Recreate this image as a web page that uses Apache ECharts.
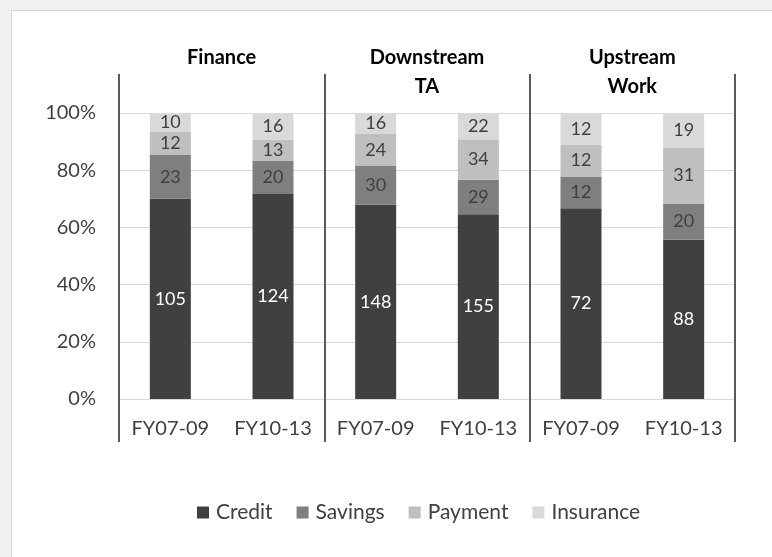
<!DOCTYPE html>
<html>
<head>
<meta charset="utf-8">
<script src="https://cdn.jsdelivr.net/npm/echarts@6/dist/echarts.min.js"></script>
<style>
    html, body { margin: 0; padding: 0; background: #f0f0f0; }
    #chart_box {
        position: absolute; left: 11px; top: 10px;
        width: 761px; height: 547px;
        border-left: 1px solid #d6d6d6; border-top: 1px solid #d6d6d6;
        background: #ffffff;
    }
</style>
</head>
<body>
<div id="chart_box"></div>
<script>
//== Source data
var groups = ['Finance', 'Downstream\nTA', 'Upstream\nWork'];
var periods = ['FY07-09', 'FY10-13', 'FY07-09', 'FY10-13', 'FY07-09', 'FY10-13'];
var yTicks = [0, 20, 40, 60, 80, 100];

var credit = [105, 124, 148, 155, 72, 88];
var savings = [23, 20, 30, 29, 12, 20];
var payment = [12, 13, 24, 34, 12, 31];
var insurance = [10, 16, 16, 22, 12, 19];

var seriesNames = ['Credit', 'Savings', 'Payment', 'Insurance'];
var seriesColors = ['#404040', '#7f7f7f', '#bfbfbf', '#d9d9d9'];
var labelColors = ['#ffffff', '#404040', '#404040', '#404040'];

var FONT = 'Lato';

//== build 100% stacked series
var rawLists = [credit, savings, payment, insurance];
var totals = periods.map(function (p, i) {
    return credit[i] + savings[i] + payment[i] + insurance[i];
});

var series = rawLists.map(function (list, s) {
    return {
        name: seriesNames[s],
        type: 'bar',
        stack: 'share',
        barWidth: 41,
        xAxisIndex: 0,
        yAxisIndex: 0,
        itemStyle: { color: seriesColors[s] },
        label: {
            show: true,
            position: 'inside',
            color: labelColors[s],
            fontFamily: FONT,
            fontSize: 18,
            formatter: function (p) { return String(list[p.dataIndex]); }
        },
        data: list.map(function (v, i) { return v / totals[i] * 100; })
    };
});

var chart = echarts.init(document.getElementById('chart_box'));

chart.setOption({
    animation: false,
    backgroundColor: '#ffffff',
    textStyle: { fontFamily: FONT },
    legend: {
        data: seriesNames,
        left: 180,
        top: 486,
        icon: 'rect',
        itemWidth: 12,
        itemHeight: 12,
        itemGap: 24,
        textStyle: { fontFamily: FONT, fontSize: 21, color: '#404040', padding: [0, 0, 0, 2] }
    },
    grid: [
        { left: 107, right: 38, top: 102, bottom: 159 },
        { left: 107, right: 38, top: 63, bottom: 116 }
    ],
    xAxis: [{
        type: 'category',
        gridIndex: 0,
        data: periods,
        axisLine: { show: false },
        axisTick: { show: false },
        axisLabel: {
            interval: 0,
            margin: 20,
            fontFamily: FONT,
            fontSize: 20,
            color: '#404040'
        }
    }, {
        // group headers; split lines act as separators
        type: 'category',
        gridIndex: 1,
        position: 'top',
        data: groups,
        axisLine: { show: false },
        axisTick: { show: false },
        splitLine: {
            show: true,
            interval: 0,
            lineStyle: { color: '#595959', width: 2 }
        },
        axisLabel: {
            interval: 0,
            margin: 31,
            verticalAlign: 'top',
            lineHeight: 29,
            fontFamily: FONT,
            fontSize: 20,
            fontWeight: 'bold',
            color: '#000000'
        }
    }],
    yAxis: [{
        type: 'value',
        gridIndex: 0,
        min: yTicks[0],
        max: yTicks[yTicks.length - 1],
        interval: yTicks[1] - yTicks[0],
        axisLine: { show: false },
        axisTick: { show: false },
        splitLine: { lineStyle: { color: '#d9d9d9', width: 1 } },
        axisLabel: {
            margin: 23,
            formatter: '{value}%',
            fontFamily: FONT,
            fontSize: 20,
            color: '#404040'
        }
    }, {
        type: 'value',
        gridIndex: 1,
        show: false
    }],
    series: series
});
</script>
</body>
</html>
